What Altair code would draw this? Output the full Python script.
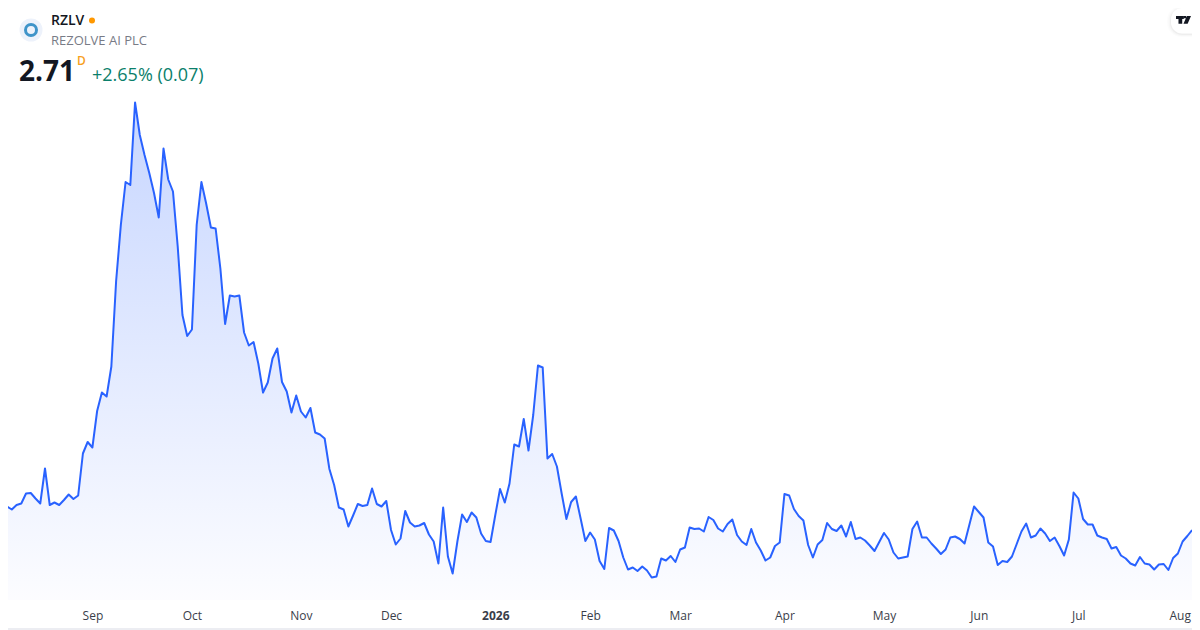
import json
import altair as alt
import pandas as pd

TICKER = "RZLV"
COMPANY = "REZOLVE AI PLC"
LAST = "2.71"
INTERVAL = "D"
CHANGE = "+2.65% (0.07)"

closes = [
3.32,3.18,3.12,3.21,3.24,3.44,3.45,3.34,3.24,3.94,3.21,3.26,3.21,3.31,3.42,3.33,3.40,4.24,4.47,4.36,
5.09,5.46,5.38,5.98,7.68,8.81,9.67,9.61,11.26,10.61,10.21,9.85,9.45,8.96,10.34,9.72,9.48,8.38,7.01,6.59,
6.72,8.81,9.67,9.24,8.76,8.74,7.94,6.83,7.40,7.38,7.40,6.66,6.40,6.47,6.04,5.46,5.66,6.14,6.34,5.67,
5.48,5.06,5.40,5.08,4.96,5.15,4.66,4.62,4.54,3.93,3.61,3.16,3.12,2.78,3.00,3.23,3.19,3.21,3.54,3.23,
3.18,3.29,2.71,2.42,2.54,3.09,2.86,2.78,2.80,2.85,2.62,2.48,2.04,3.16,2.18,1.84,2.48,3.02,2.87,3.06,
2.96,2.64,2.49,2.47,3.01,3.53,3.26,3.64,4.42,4.38,4.93,4.30,5.01,6.00,5.96,4.14,4.23,3.98,3.44,2.93,
3.27,3.38,2.94,2.49,2.66,2.52,2.09,1.93,2.75,2.70,2.49,2.16,1.92,1.96,1.89,1.98,1.90,1.76,1.78,2.14,
2.10,2.19,2.07,2.32,2.36,2.76,2.73,2.74,2.68,2.97,2.91,2.74,2.68,2.83,2.92,2.61,2.48,2.41,2.73,2.46,
2.30,2.10,2.16,2.39,2.46,3.43,3.40,3.13,2.99,2.90,2.41,2.16,2.42,2.51,2.85,2.73,2.69,2.80,2.58,2.87,
2.53,2.56,2.50,2.40,2.29,2.47,2.65,2.52,2.26,2.14,2.16,2.18,2.73,2.88,2.56,2.56,2.44,2.34,2.23,2.32,
2.56,2.58,2.53,2.44,2.81,3.18,3.07,2.96,2.46,2.38,2.01,2.09,2.07,2.18,2.43,2.68,2.84,2.56,2.60,2.74,
2.64,2.49,2.56,2.39,2.20,2.52,3.46,3.34,2.93,2.82,2.82,2.60,2.56,2.53,2.34,2.37,2.20,2.14,2.04,2.00,
2.17,2.04,2.02,1.92,2.02,2.03,1.91,2.15,2.24,2.48,2.59,2.71,
]
month_labels = ["Sep", "Oct", "Nov", "Dec", "2026", "Feb", "Mar", "Apr", "May", "Jun", "Jul", "Aug"]
month_sessions = [19, 40, 63, 82, 104, 124, 143, 165, 186, 206, 227, 248.4]

df = pd.DataFrame({"session": list(range(len(closes))), "close": closes})

W, H = 1184, 592
x_scale = alt.Scale(domain=[1.196, 250.98], nice=False, zero=False)
y_scale = alt.Scale(domain=[1.31, 13.15], nice=False, zero=False)

label_expr = "{}[indexof({}, datum.value)]".format(json.dumps(month_labels), json.dumps(month_sessions))
x_enc = alt.X("session:Q", scale=x_scale, axis=alt.Axis(
    values=month_sessions, labelExpr=label_expr, title=None, grid=False, ticks=False, domain=False,
    labelFont="Open Sans", labelFontSize=12, labelColor="#3a3e4a", labelPadding=10,
    labelOverlap=False, labelFlush=False, labelBound=False, labelAngle=0,
    labelFontWeight={"condition": {"test": "datum.value == 104", "value": 700}, "value": 400},
))
y_enc = alt.Y("close:Q", scale=y_scale, axis=None)

area = alt.Chart(df).mark_area(
    clip=True, line=False,
    color=alt.Gradient(
        gradient="linear", x1=0, y1=0, x2=0, y2=1,
        stops=[alt.GradientStop(color="#c7d6ff", offset=0),
               alt.GradientStop(color="#fdfdff", offset=0.9),
               alt.GradientStop(color="#ffffff", offset=1)],
    ),
).encode(x=x_enc, y=y_enc, y2=alt.value(H))

line = alt.Chart(df).mark_line(clip=True, color="#2962FF", strokeWidth=2, strokeJoin="round").encode(
    x=x_enc, y=y_enc)

one = alt.Data(values=[{"k": 0}])

def txt(s, x, y, **kw):
    return alt.Chart(one).mark_text(text=s, align="left", baseline="alphabetic", font="Open Sans", **kw).encode(
        x=alt.value(x), y=alt.value(y))

def dot(x, y, size, **kw):
    return alt.Chart(one).mark_point(size=size, **kw).encode(x=alt.value(x), y=alt.value(y))

def box(x, x2, y, y2, **kw):
    return alt.Chart(one).mark_rect(**kw).encode(
        x=alt.value(x), x2=alt.value(x2), y=alt.value(y), y2=alt.value(y2))

header = [
    dot(23, 22, 529, shape="circle", filled=True, color="#edf2fb", opacity=1),
    dot(23, 22, 121, shape="circle", filled=False, color="#3f94c9", strokeWidth=3, opacity=1),
    txt(TICKER, 43, 17, fontSize=14, fontWeight=600, color="#131722"),
    dot(84, 12.5, 36, shape="circle", filled=True, color="#ff9800", opacity=1),
    txt(COMPANY, 43, 37, fontSize=13, color="#787b86"),
    txt(LAST, 11, 73, fontSize=28, fontWeight=700, color="#131722"),
    txt(INTERVAL, 69, 57, fontSize=12, fontWeight=600, color="#f7a01d"),
    txt(CHANGE, 84, 73, fontSize=18, color="#0b7f6b"),
]

TV_PATH = ("M-1,-.54H.04V-.12H-.17V.5H-.67V-.12H-1Z"
           "M.05,-.54H.35V-.24H.05Z"
           "M.45,-.54H1L.55,.5H0Z")
badge = [
    box(1159, 1200, -2, 29, color="#000000", opacity=0.012, cornerRadius=14),
    box(1160.5, 1200, -1, 28, color="#000000", opacity=0.02, cornerRadius=13),
    box(1162, 1200, 0, 27, color="#000000", opacity=0.035, cornerRadius=12),
    box(1163, 1200, 0, 25.5, color="#ffffff", opacity=1, cornerRadius=11),
    dot(1175.5, 12, 225, shape=TV_PATH, filled=True, color="#131722", opacity=1),
]

frame = alt.Chart(one).mark_rect(
    filled=False, fillOpacity=0, stroke="#e6e8ee", strokeWidth=1.5, cornerRadius=5
).encode(x=alt.value(-8), x2=alt.value(1200), y=alt.value(-8), y2=alt.value(621))

chart = alt.layer(area, line, *header, *badge, frame).properties(
    width=W, height=H,
    padding={"left": 0, "top": 0, "right": 0, "bottom": 30},
    autosize=alt.AutoSizeParams(type="none"),
    background="#ffffff",
).configure_view(stroke=None)

chart.save("out.html", embed_options={"renderer": "svg", "actions": False})
